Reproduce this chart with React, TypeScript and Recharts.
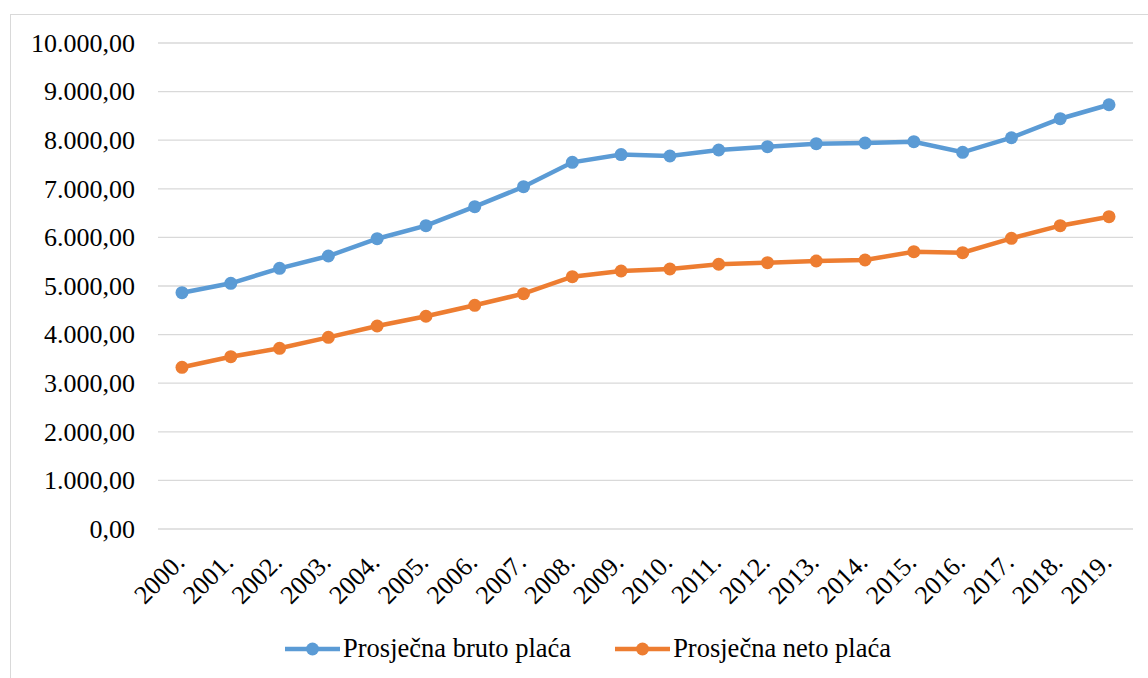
import { LineChart, Line, XAxis, YAxis, CartesianGrid, Legend } from 'recharts';

const years = ['2000.', '2001.', '2002.', '2003.', '2004.', '2005.', '2006.', '2007.', '2008.', '2009.',
  '2010.', '2011.', '2012.', '2013.', '2014.', '2015.', '2016.', '2017.', '2018.', '2019.'];
const bruto = [4862, 5055, 5364, 5617, 5973, 6241, 6632, 7043, 7545, 7705,
  7675, 7798, 7866, 7928, 7942, 7969, 7751, 8051, 8442, 8730];
const neto = [3327, 3545, 3718, 3944, 4177, 4377, 4603, 4842, 5191, 5309,
  5350, 5447, 5480, 5514, 5535, 5706, 5685, 5981, 6241, 6426];
const yTicks = [0, 1000, 2000, 3000, 4000, 5000, 6000, 7000, 8000, 9000, 10000];

const BLUE = '#5B9BD5';
const ORANGE = '#ED7D31';
const FONT = '"Liberation Serif", "Times New Roman", serif';

const data = years.map((year, i) => ({ year, bruto: bruto[i], neto: neto[i] }));

// 10000 -> "10.000,00"
const formatHr = (v: number) => {
  const s = Math.round(v).toString().replace(/\B(?=(\d{3})+(?!\d))/g, '.');
  return `${s},00`;
};

const YearTick = ({ x, y, payload }: any) => (
  <text
    x={x + 4}
    y={y + 27}
    transform={`rotate(-45, ${x + 4}, ${y + 27})`}
    textAnchor="end"
    style={{ fontFamily: FONT, fontSize: 26 }}
    fill="#000"
  >
    {payload.value}
  </text>
);

const ValueTick = ({ x, y, payload }: any) => (
  <text
    x={x}
    y={y}
    dy="0.34em"
    textAnchor="end"
    style={{ fontFamily: FONT, fontSize: 26 }}
    fill="#000"
  >
    {formatHr(payload.value)}
  </text>
);

const LegendContent = () => {
  const items = [
    { label: 'Prosječna bruto plaća', color: BLUE },
    { label: 'Prosječna neto plaća', color: ORANGE },
  ];
  return (
    <div style={{ height: 59, display: 'flex', alignItems: 'center', paddingLeft: 285, gap: 44 }}>
      {items.map((it) => (
        <div key={it.label} style={{ display: 'flex', alignItems: 'center' }}>
          <svg width={55} height={16} style={{ marginRight: 3 }}>
            <line x1={0} y1={8} x2={55} y2={8} stroke={it.color} strokeWidth={4.5} />
            <circle cx={27.5} cy={8} r={6.5} fill={it.color} />
          </svg>
          <span style={{ fontFamily: FONT, fontSize: 26.5, color: '#000', lineHeight: 1 }}>{it.label}</span>
        </div>
      ))}
    </div>
  );
};

export default function App() {
  return (
    <div style={{ position: 'absolute', left: 0, top: 0, width: 1148, height: 678, background: '#fff', overflow: 'hidden' }}>
      {/* chart frame, runs off the right and bottom edges like the source */}
      <div style={{ position: 'absolute', left: 10, top: 14, width: 1200, height: 700, border: '1.5px solid #d9d9d9' }} />
      <LineChart
        width={1148}
        height={678}
        data={data}
        margin={{ top: 43, right: 15, bottom: 0, left: 0 }}
      >
        <CartesianGrid vertical={false} stroke="#d9d9d9" strokeWidth={1.3} />
        <XAxis
          dataKey="year"
          axisLine={false}
          tickLine={false}
          interval={0}
          height={90}
          padding={{ left: 24, right: 24 }}
          tick={<YearTick />}
        />
        <YAxis
          width={158}
          domain={[0, 10000]}
          ticks={yTicks}
          axisLine={false}
          tickLine={false}
          tickSize={0}
          tickMargin={23}
          tick={<ValueTick />}
        />
        <Legend verticalAlign="bottom" content={<LegendContent />} wrapperStyle={{ height: 59 }} />
        <Line
          type="linear"
          dataKey="bruto"
          name="Prosječna bruto plaća"
          stroke={BLUE}
          strokeWidth={4.5}
          dot={{ r: 6.5, fill: BLUE, stroke: BLUE, strokeWidth: 0 }}
          activeDot={false}
          isAnimationActive={false}
        />
        <Line
          type="linear"
          dataKey="neto"
          name="Prosječna neto plaća"
          stroke={ORANGE}
          strokeWidth={4.5}
          dot={{ r: 6.5, fill: ORANGE, stroke: ORANGE, strokeWidth: 0 }}
          activeDot={false}
          isAnimationActive={false}
        />
      </LineChart>
    </div>
  );
}
